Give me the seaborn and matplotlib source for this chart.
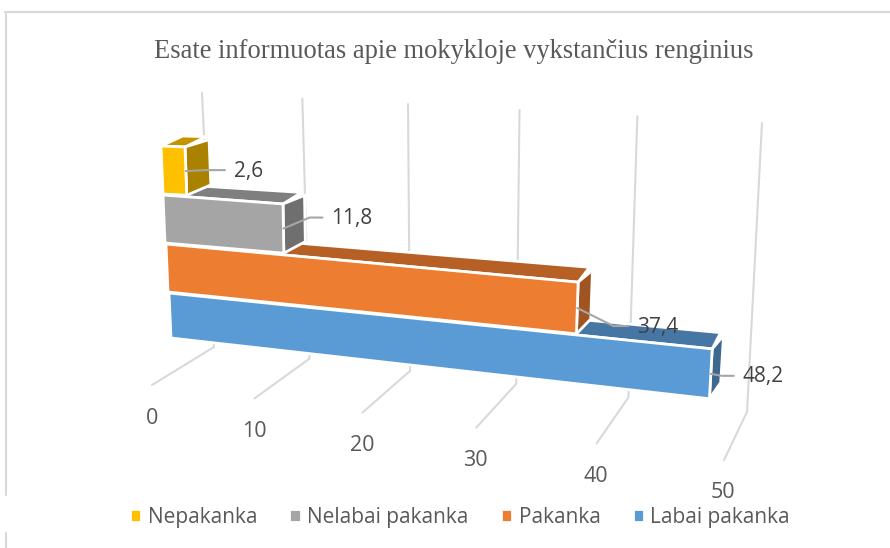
import numpy as np
import pandas as pd
import matplotlib
matplotlib.use('Agg')
import matplotlib.pyplot as plt
import seaborn as sns
from matplotlib.colors import to_rgb
from matplotlib.lines import Line2D
from matplotlib.transforms import Affine2D, Transform

categories = ['Nepakanka', 'Nelabai pakanka', 'Pakanka', 'Labai pakanka']
values = [2.6, 11.8, 37.4, 48.2]
ticks = [0, 10, 20, 30, 40, 50]
colors = ['#ffc000', '#a5a5a5', '#ed7d31', '#5b9bd5']
title = 'Esate informuotas apie mokykloje vykstančius renginius'

# front face of every bar: where it starts and how the value axis runs in that row
row_x0 = [161, 163, 166, 169]
row_y0 = [146, 195, 244, 293]
row_h = [48, 48, 48, 45]
row_sx = [9.23, 10.17, 11.02, 11.27]
row_sy = [0.38, 0.76, 1.02, 1.16]

W, H = 890, 548
GREY_TXT = '#595959'
GRID = '#d9d9d9'
BAR_W = 0.8
PERSP = -0.00254
EDGE = 2.0

sns.set_theme(style='white')
plt.rcParams['font.family'] = ['Open Sans', 'DejaVu Sans']

# image pixels (y down) to display
pix = Affine2D().scale(1, -1).translate(0, H)


def project(v, y, depth=0.0):
    v, y = np.asarray(v, float), np.asarray(y, float)
    r = np.rint(y).astype(int)
    f = (y - (r - BAR_W / 2)) / BAR_W
    px = np.take(row_x0, r) + np.take(row_sx, r) * v + f * (2 - 0.1 * v)
    py = np.take(row_y0, r) + np.take(row_sy, r) * v + f * (np.take(row_h, r) + 0.1 * v)
    px = px + depth * (24.8 - 0.28 * v)
    py = py - depth * (7 + 0.13 * v + 3 * f)
    return px, py


class BarProjection(Transform):
    input_dims = 2
    output_dims = 2
    is_separable = False

    def transform_non_affine(self, values):
        px, py = project(values[:, 0], values[:, 1])
        return np.column_stack([px, py])


def guide(v, start, end):
    # position along a line running in the value direction, with perspective
    w = (np.asarray(v, float) / (1 + PERSP * np.asarray(v, float))) / (50 / (1 + PERSP * 50))
    return start[0] + (end[0] - start[0]) * w, start[1] + (end[1] - start[1]) * w


def shade(c, k):
    return tuple(np.array(to_rgb(c)) * k)


df = pd.DataFrame({'kat': categories, 'val': values})

fig = plt.figure(figsize=(W / 100, H / 100), dpi=100)
ax = fig.add_axes([0, 0, 1, 1])
sns.barplot(data=df, x='val', y='kat', hue='kat', hue_order=categories, order=categories,
            palette=colors, saturation=1, width=BAR_W, orient='h', dodge=False,
            edgecolor='white', linewidth=EDGE, legend=True, ax=ax)
ax.axis('off')

bar_tr = BarProjection() + pix

# walls, floor lines and value labels
for t in ticks:
    a = guide(t, (202, 93), (762, 123))
    b = guide(t, (214, 347), (747, 412))
    c = guide(t, (152, 385), (724, 460))
    ax.plot([a[0], b[0], c[0]], [a[1], b[1], c[1]], color=GRID, lw=1.5, transform=pix,
            zorder=1, clip_on=False)
    lab = guide(t, (152, 418), (723, 493))
    ax.text(lab[0], lab[1], str(t), transform=pix, ha='center', va='center',
            fontsize=15.5, color=GREY_TXT)

# back rows first, the top row sits nearest
n = len(values)
for i, cont in enumerate(ax.containers):
    for patch in cont:
        if patch.get_width() == 0 or np.isnan(patch.get_width()):
            continue
        v = patch.get_width()
        y0, y1 = patch.get_y(), patch.get_y() + patch.get_height()
        row = int(np.rint((y0 + y1) / 2))
        z = 3 + (n - row) * 2
        patch.set_transform(bar_tr)
        patch.set_zorder(z + 1)
        patch.set_clip_on(False)
        base = colors[row]
        # top face, its back edge sits a little off the end face
        p0 = project(0, y0)
        p1 = project(v, y0)
        p2 = project(v, y0, 1)
        p3 = project(0, y0, 1)
        ax.fill([p0[0], p1[0], p2[0] - 3, p3[0] - 3], [p0[1], p1[1], p2[1] - 3, p3[1] - 3],
                transform=pix, facecolor=shade(base, 0.77), edgecolor='white', lw=EDGE,
                zorder=z, clip_on=False)
        # end face
        q0 = project(v, y0)
        q1 = project(v, y1)
        q2 = project(v, y1, 1)
        q3 = project(v, y0, 1)
        ax.fill([q0[0], q1[0], q2[0], q3[0]], [q0[1], q1[1], q2[1], q3[1]], transform=pix,
                facecolor=shade(base, 0.67), edgecolor='white', lw=EDGE, zorder=z, clip_on=False)

# value labels with leader lines
leader_mid = [(20, -1), (26, -11), (36, 18), (11, 2)]
leader_end = [(39, -1), (39, -11), (51, 18), (23, 2)]
for i, v in enumerate(values):
    sx, sy = project(v, float(i))
    mid, end = leader_mid[i], leader_end[i]
    ax.plot([sx, sx + mid[0], sx + end[0]], [sy, sy + mid[1], sy + end[1]], color='#a6a6a6',
            lw=1.5, transform=pix, zorder=30, clip_on=False)
    ax.text(sx + end[0] + 9, sy + end[1] + 1, f'{v:.1f}'.replace('.', ','), transform=pix,
            ha='left', va='center', fontsize=15, color='#404040', zorder=31)

ax.text(454, 51, title, transform=pix, ha='center', va='center', fontsize=19.1,
        family=['Liberation Serif'], color=GREY_TXT)

sns.move_legend(ax, 'center', bbox_to_anchor=(460 / W, 1 - 517.6 / H), ncol=4, frameon=False,
                title=None, fontsize=15, labelcolor=GREY_TXT, handlelength=0.55, handleheight=0.55,
                handletextpad=0.3, columnspacing=1.55)

# chart frame
for xs, ys in [((5, W), (12, 12)), ((6, 6), (12, 495)), ((6, 6), (533, H))]:
    fig.add_artist(Line2D(xs, ys, color=GRID, lw=1.5, transform=pix))

fig.savefig('out.png', dpi=100)
